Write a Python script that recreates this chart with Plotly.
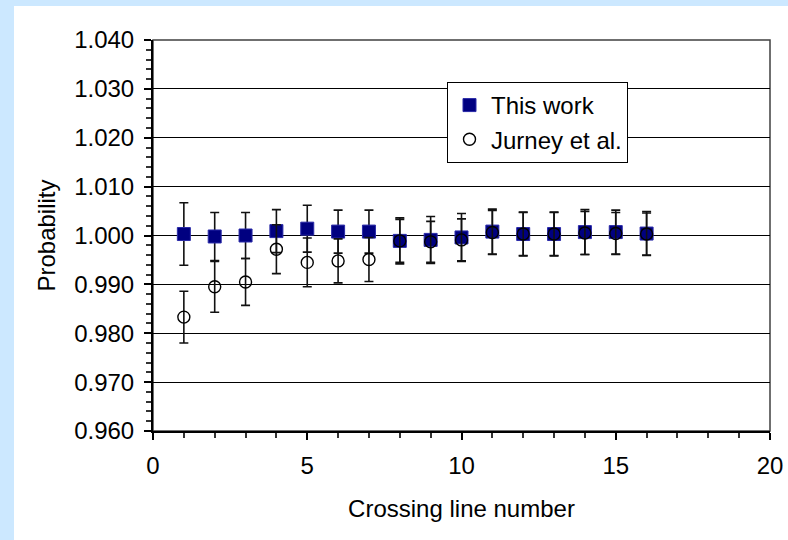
import plotly.graph_objects as go

# Crossing line numbers
crossing = list(range(1, 17))

# This work: probability and 1-sigma uncertainty
this_work = [1.0003, 0.9998, 1.0000, 1.0009, 1.0014, 1.0008, 1.0008, 0.9989,
             0.9991, 0.9996, 1.0008, 1.0003, 1.0003, 1.0007, 1.0007, 1.0004]
this_work_err = [0.0064, 0.0049, 0.0047, 0.0044, 0.0048, 0.0044, 0.0044, 0.0047,
                 0.0048, 0.0049, 0.0046, 0.0045, 0.0045, 0.0046, 0.0045, 0.0045]

# Jurney et al.: probability and uncertainty
jurney = [0.9833, 0.9895, 0.9905, 0.9972, 0.9945, 0.9948, 0.9951, 0.9989,
          0.9987, 0.9991, 1.0006, 1.0003, 1.0003, 1.0005, 1.0004, 1.0003]
jurney_err = [0.0053, 0.0052, 0.0048, 0.0050, 0.0050, 0.0045, 0.0045, 0.0044,
              0.0042, 0.0043, 0.0045, 0.0044, 0.0044, 0.0044, 0.0043, 0.0043]

y_ticks = [0.96, 0.97, 0.98, 0.99, 1.00, 1.01, 1.02, 1.03, 1.04]
x_ticks = [0, 5, 10, 15, 20]

FONT = "Arial, 'Liberation Sans', sans-serif"
FS = 24
NAVY = "#000080"

fig = go.Figure()

fig.add_trace(go.Scatter(
    x=crossing, y=this_work, mode="markers", name="This work",
    legendgroup="a",
    marker=dict(symbol="square", size=13, color=NAVY,
                line=dict(color="#2a2aa8", width=1)),
    error_y=dict(type="data", array=this_work_err, visible=True,
                 color="#111111", thickness=1.6, width=4.5),
))

fig.add_trace(go.Scatter(
    x=crossing, y=jurney, mode="markers", name="Jurney et al.",
    legendgroup="b",
    marker=dict(symbol="circle-open", size=12, color="black",
                line=dict(color="black", width=1.4)),
    error_y=dict(type="data", array=jurney_err, visible=True,
                 color="#111111", thickness=1.6, width=4.5),
))

# White panel over the light-blue page, and the gray frame of the plot area
fig.add_shape(type="rect", xref="paper", yref="paper",
              x0=-0.2253, x1=1.04, y0=-0.30, y1=1.087,
              fillcolor="white", line=dict(width=0), layer="below")
fig.add_shape(type="rect", xref="paper", yref="paper",
              x0=0, x1=1, y0=0, y1=1,
              fillcolor="rgba(0,0,0,0)", line=dict(color="#404040", width=1.5),
              layer="below")

fig.update_layout(
    width=788, height=540,
    paper_bgcolor="#CCE8FF",
    plot_bgcolor="white",
    margin=dict(l=153, r=18, t=40, b=109, autoexpand=False),
    font=dict(family=FONT, size=FS, color="black"),
    showlegend=True,
    legend=dict(
        x=0.4765, y=0.8926, xanchor="left", yanchor="top",
        bgcolor="white", bordercolor="black", borderwidth=1,
        font=dict(family=FONT, size=FS, color="black"),
        tracegroupgap=0, traceorder="grouped", itemwidth=33,
    ),
    xaxis=dict(
        range=[0, 20], tickmode="array", tickvals=x_ticks,
        ticktext=[str(v) for v in x_ticks],
        automargin=False,
        showgrid=False, zeroline=False,
        showline=True, linecolor="black", linewidth=2,
        ticks="outside", ticklen=7, tickwidth=1.5, tickcolor="black",
        ticklabelstandoff=5,
        minor=dict(dtick=1, ticks="outside", ticklen=5, tickwidth=1.5,
                   tickcolor="#333333", showgrid=False),
        title=dict(text="Crossing line number", standoff=22,
                   font=dict(family=FONT, size=FS)),
        tickfont=dict(family=FONT, size=FS),
    ),
    yaxis=dict(
        range=[0.96, 1.04], tickmode="array", tickvals=y_ticks,
        ticktext=[f"{v:.3f}" for v in y_ticks],
        automargin=False,
        showgrid=True, gridcolor="black", gridwidth=1,
        zeroline=False,
        showline=True, linecolor="black", linewidth=2,
        ticks="outside", ticklen=7, tickwidth=1.5, tickcolor="black",
        ticklabelstandoff=5,
        minor=dict(dtick=0.002, ticks="outside", ticklen=5, tickwidth=1.5,
                   tickcolor="#333333", showgrid=False),
        title=dict(text="Probability", standoff=12,
                   font=dict(family=FONT, size=FS)),
        tickfont=dict(family=FONT, size=FS),
    ),
)

fig.write_html("out.html")
